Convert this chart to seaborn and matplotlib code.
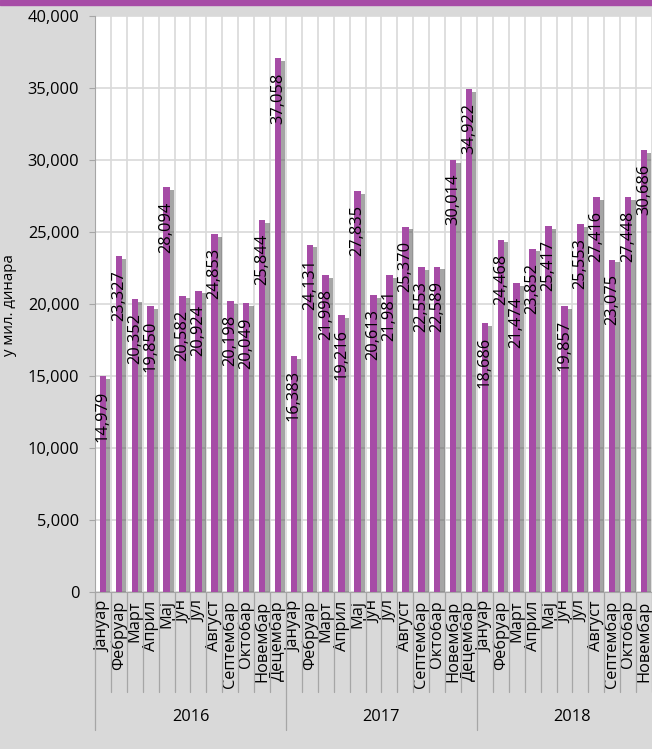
import matplotlib
matplotlib.use("Agg")
import matplotlib.pyplot as plt
import matplotlib.patheffects as pe
from matplotlib.ticker import FuncFormatter, MultipleLocator
import matplotlib.transforms as mtransforms
import seaborn as sns
import pandas as pd

years = ["2016", "2017", "2018"]
months = ["Јануар", "Фебруар", "Март", "Април", "Мај", "Јун", "Јул",
          "Август", "Септембар", "Октобар", "Новембар", "Децембар"]
values_2016 = [14979, 23327, 20352, 19850, 28094, 20582, 20924, 24853, 20198, 20049, 25844, 37058]
values_2017 = [16383, 24131, 21998, 19216, 27835, 20613, 21981, 25370, 22553, 22589, 30014, 34922]
values_2018 = [18686, 24468, 21474, 23852, 25417, 19857, 25553, 27416, 23075, 27448, 30686]
y_label = "у мил. динара"

series = [values_2016, values_2017, values_2018]
rows = []
for yr, vals in zip(years, series):
    for m, v in zip(months, vals):
        rows.append({"year": yr, "month": m, "key": f"{yr}-{m}", "value": v})
df = pd.DataFrame(rows)

sns.set_style("white")
FONT = ["Open Sans", "DejaVu Sans"]
plt.rcParams["font.family"] = FONT

BG = "#d9d9d9"
PURPLE = "#a64ca6"
FS = 11.8
W, H = 652, 749
fig = plt.figure(figsize=(W / 100, H / 100), dpi=100, facecolor=BG)
ax = fig.add_axes([95 / W, 1 - 592 / H, (W - 95) / W, 576 / H])
ax.set_facecolor("white")

sns.barplot(data=df, x="key", y="value", order=list(df["key"]), color=PURPLE,
            width=0.41, ax=ax, saturation=1, zorder=3)
for p in ax.patches:
    p.set_path_effects([pe.SimplePatchShadow(offset=(3, -2), shadow_rgbFace="#4d4d4d", alpha=0.5),
                        pe.Normal()])
    p.set_edgecolor("none")

n = len(df)
ax.set_xlim(-0.5, n - 0.5)
ax.set_ylim(0, 40000)
ax.yaxis.set_major_locator(MultipleLocator(5000))
ax.yaxis.set_major_formatter(FuncFormatter(lambda v, _: f"{int(v):,}"))

# grid
ax.grid(axis="y", color="#d9d9d9", linewidth=1.2, zorder=0)
for b in range(n + 1):
    ax.axvline(b - 0.5, color="#d9d9d9", linewidth=1.2, zorder=0)
ax.set_axisbelow(True)

for s in ["top", "right"]:
    ax.spines[s].set_visible(False)
ax.spines["left"].set_color("#a6a6a6")
ax.spines["bottom"].set_color("#a6a6a6")
ax.spines["left"].set_zorder(4)

ax.tick_params(axis="y", length=4.3, color="#a6a6a6", labelsize=FS, labelcolor="black", pad=7, left=True)
ax.set_xticks(range(n))
ax.set_xticklabels(df["month"], rotation=90, fontsize=FS, va="top", ha="center")
ax.tick_params(axis="x", length=0, pad=6, labelcolor="black")
ax.set_xlabel("")
ax.set_ylabel("")
fig.text(10 / W, 1 - 305 / H, y_label, rotation=90, ha="center", va="center", fontsize=10.8, color="black")

# value labels
for i, v in enumerate(df["value"]):
    ax.annotate(f"{v:,}", (i, v), xytext=(0, -14), textcoords="offset pixels",
                rotation=90, ha="center", va="top", fontsize=FS, color="black", zorder=5)

# category separators below axis
trans = mtransforms.blended_transform_factory(ax.transData, ax.transAxes)
month_bottom = -(692 - 592) / 576
year_bottom = -(730 - 592) / 576
starts = [0, 12, 24]
for b in range(n + 1):
    x = b - 0.5
    yb = year_bottom if (b in starts) else month_bottom
    ax.plot([x, x], [0, yb], transform=trans, color="#a6a6a6", linewidth=0.9, clip_on=False)
for yr, st, vals in zip(years, starts, series):
    center = st + 5.5
    ax.text(center, -(717 - 592) / 576, yr, transform=trans, ha="center", va="center",
            fontsize=FS, color="black")

# top purple strip
fig.patches.append(plt.Rectangle((0, 1 - 5 / H), 1, 5 / H, transform=fig.transFigure,
                                 color=PURPLE, zorder=10))

fig.savefig("out.png", dpi=100, facecolor=BG)
